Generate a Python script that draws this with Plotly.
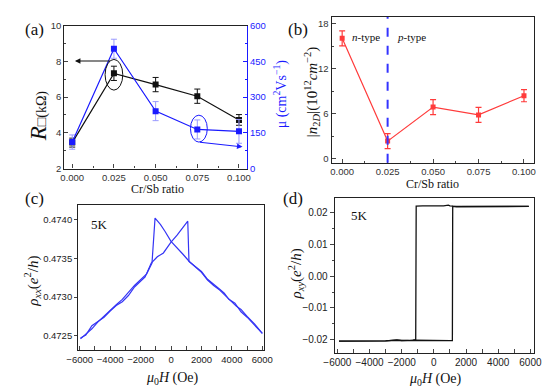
import plotly.graph_objects as go

W, H = 550, 389

# ---------------- data ----------------
# Panel (a)
ratio = [0.000, 0.025, 0.050, 0.075, 0.100]
r_sheet = [3.45, 7.33, 6.70, 6.05, 4.72]
r_sheet_err = [0.25, 0.40, 0.40, 0.40, 0.30]
mobility = [111, 503, 241, 164, 156]
mobility_err = [30, 40, 40, 40, 50]

# Panel (b)
n2d = [16.05, 2.37, 6.90, 5.86, 8.41]
n2d_err = [1.0, 1.0, 1.0, 1.0, 0.8]

# Panel (c)  rho_xx loop
field_up_xx = [-5950, -5600, -5200, -4800, -4400, -4000, -3600, -3200, -2800, -2400,
               -2000, -1700, -1300, -900, -500, -200, 0, 400, 800, 1100,
               1180, 1500, 2000, 2400, 2800, 3200, 3500, 3800, 4200, 4600,
               5000, 5500, 6000]
rho_xx_up = [0.47247, 0.47251, 0.47263, 0.47268, 0.47274, 0.47282, 0.47289, 0.47294, 0.47302, 0.47313,
             0.47320, 0.47326, 0.47344, 0.47352, 0.47357, 0.47365, 0.47371, 0.47380, 0.47390, 0.47398,
             0.47346, 0.47341, 0.47333, 0.47323, 0.47317, 0.47310, 0.47305, 0.47297, 0.47292, 0.47281,
             0.47274, 0.47264, 0.47253]
field_down_xx = [6000, 5500, 5000, 4600, 4300, 4000, 3600, 3200, 2800, 2400,
                 2000, 1600, 1200, 800, 400, 0, -400, -700, -1050, -1250,
                 -1600, -2000, -2400, -2800, -3200, -3600, -4000, -4400, -4800, -5200,
                 -5600, -5950]
rho_xx_down = [0.47253, 0.47265, 0.47275, 0.47284, 0.47288, 0.47294, 0.47302, 0.47309, 0.47315, 0.47322,
               0.47332, 0.47339, 0.47346, 0.47355, 0.47363, 0.47372, 0.47385, 0.47394, 0.47402, 0.47344,
               0.47330, 0.47323, 0.47315, 0.47306, 0.47297, 0.47290, 0.47283, 0.47275, 0.47268, 0.47259,
               0.47252, 0.47246]

# Panel (d)  rho_xy loop
field_up_xy = [-5900, -5000, -4000, -3000, -2300, -2000, -1500, -1150, -500, 0,
               500, 1000, 1150, 1170, 1400, 2000, 3000, 4000, 5000, 5900]
rho_xy_up = [-0.0205, -0.0205, -0.0204, -0.0204, -0.0202, -0.0203, -0.0203, -0.0202, -0.0203, -0.0203,
             -0.0203, -0.0203, -0.0203, 0.0220, 0.0219, 0.0219, 0.0219, 0.0220, 0.0220, 0.0220]
field_down_xy = [5900, 4000, 2000, 1300, 1180, 1000, 900, 600, 200, -300,
                 -700, -1100, -1130, -1300, -2000, -2300, -3000, -4000, -5000, -5900]
rho_xy_down = [0.0220, 0.0220, 0.0219, 0.0219, 0.0221, 0.0222, 0.0224, 0.0222, 0.0223, 0.0222,
               0.0222, 0.0221, -0.0200, -0.0202, -0.0203, -0.0201, -0.0204, -0.0204, -0.0205, -0.0205]

# ---------------- styling helpers ----------------
def px_x(p):
    return p / W

def px_y(p):
    return 1 - p / H

SERIF = "Liberation Serif"
SANS = "Liberation Sans"
BLUE = "#1a1aff"
RED = "#ff3b3b"
LBLUE = "#9a9aff"

fig = go.Figure()

# (a) sheet resistance
fig.add_trace(go.Scatter(
    x=ratio, y=r_sheet, mode="lines+markers", xaxis="x", yaxis="y",
    line=dict(color="#111111", width=1.2),
    marker=dict(symbol="square", size=6, color="#111111"),
    error_y=dict(type="data", array=r_sheet_err, color="#111111", thickness=1, width=3),
    showlegend=False))
# (a) mobility
fig.add_trace(go.Scatter(
    x=ratio, y=mobility, mode="lines+markers", xaxis="x", yaxis="y5",
    line=dict(color=BLUE, width=1.2),
    marker=dict(symbol="square", size=6, color=BLUE),
    error_y=dict(type="data", array=mobility_err, color=LBLUE, thickness=1, width=3),
    showlegend=False))
# (b) carrier density
fig.add_trace(go.Scatter(
    x=ratio, y=n2d, mode="lines+markers", xaxis="x2", yaxis="y2",
    line=dict(color=RED, width=1.2),
    marker=dict(symbol="square", size=5, color=RED),
    error_y=dict(type="data", array=n2d_err, color=RED, thickness=1.2, width=3),
    showlegend=False))
# (c)
fig.add_trace(go.Scatter(x=field_up_xx, y=rho_xx_up, mode="lines", xaxis="x3", yaxis="y3",
                         line=dict(color="#3535f5", width=1.2), showlegend=False))
fig.add_trace(go.Scatter(x=field_down_xx, y=rho_xx_down, mode="lines", xaxis="x3", yaxis="y3",
                         line=dict(color="#3535f5", width=1.2), showlegend=False))
# (d)
fig.add_trace(go.Scatter(x=field_up_xy, y=rho_xy_up, mode="lines", xaxis="x4", yaxis="y4",
                         line=dict(color="#111111", width=1.3), showlegend=False))
fig.add_trace(go.Scatter(x=field_down_xy, y=rho_xy_down, mode="lines", xaxis="x4", yaxis="y4",
                         line=dict(color="#111111", width=1.3), showlegend=False))

tickfont_ab = dict(family=SANS, size=9.5, color="#333333")
tickfont_c = dict(family=SANS, size=9.5, color="#222222")
tickfont_d = dict(family=SANS, size=10, color="#222222")

common = dict(showgrid=False, zeroline=False, showline=True, linewidth=1.2)

fig.update_layout(
    width=W, height=H, margin=dict(l=0, r=0, t=0, b=0),
    paper_bgcolor="white", plot_bgcolor="white",
    xaxis=dict(domain=[px_x(46), px_x(236)], range=[-0.0048, 0.1048], anchor="y",
               tickvals=ratio, tickformat=".3f", ticks="inside", ticklen=4, tickangle=0,
               minor=dict(ticks="inside", ticklen=2, dtick=0.0125, tick0=0),
               linecolor="#222222", mirror=True, tickfont=tickfont_ab, **common),
    yaxis=dict(domain=[px_y(159), px_y(12)], range=[2, 10], anchor="x",
               dtick=2, tick0=2, ticks="inside", ticklen=4,
               minor=dict(ticks="inside", ticklen=2, dtick=1),
               linecolor="#222222", mirror=False, tickfont=tickfont_ab, **common),
    yaxis5=dict(overlaying="y", side="right", anchor="x", range=[0, 600],
                dtick=150, ticks="inside", ticklen=4,
                minor=dict(ticks="inside", ticklen=2, dtick=75),
                linecolor=BLUE, tickcolor=BLUE,
                tickfont=dict(family=SANS, size=9.5, color=BLUE), **common),
    xaxis2=dict(domain=[px_x(324), px_x(534)], range=[-0.0058, 0.1053], anchor="y2",
                tickvals=ratio, tickformat=".3f", ticks="inside", ticklen=4, tickangle=0,
                minor=dict(ticks="inside", ticklen=2, dtick=0.0125, tick0=0),
                linecolor="#222222", mirror=True, tickfont=tickfont_ab, **common),
    yaxis2=dict(domain=[px_y(153), px_y(3)], range=[-0.5, 18.9], anchor="x2",
                tickvals=[0, 6, 12, 18], ticks="inside", ticklen=4,
                minor=dict(ticks="inside", ticklen=2, dtick=3),
                linecolor="#222222", mirror=True, tickfont=tickfont_ab, **common),
    xaxis3=dict(domain=[px_x(60.5), px_x(254)], range=[-6100, 6130], anchor="y3",
                tickvals=[-6000, -4000, -2000, 0, 2000, 4000, 6000], ticks="inside", ticklen=4,
                tickangle=0,
                minor=dict(ticks="inside", ticklen=4, dtick=1000),
                linecolor="#222222", mirror=True, tickfont=tickfont_c, **common),
    yaxis3=dict(domain=[px_y(346), px_y(196.7)], range=[0.472313, 0.474188], anchor="x3",
                tickvals=[0.4725, 0.4730, 0.4735, 0.4740], tickformat=".4f",
                ticks="outside", ticklen=3,
                linecolor="#222222", mirror=True, tickfont=tickfont_c, **common),
    xaxis4=dict(domain=[px_x(327.3), px_x(534)], range=[-6160, 6200], anchor="y4",
                tickvals=[-6000, -4000, -2000, 0, 2000, 4000, 6000], ticks="inside", ticklen=4,
                tickangle=0,
                minor=dict(ticks="inside", ticklen=4, dtick=1000),
                linecolor="#222222", mirror=True, tickfont=tickfont_d, **common),
    yaxis4=dict(domain=[px_y(349), px_y(189.3)], range=[-0.02427, 0.02467], anchor="x4",
                tickvals=[-0.02, -0.01, 0.0, 0.01, 0.02], tickformat=".2f",
                ticks="outside", ticklen=4,
                minor=dict(ticks="outside", ticklen=2, dtick=0.005),
                linecolor="#222222", mirror=True, tickfont=tickfont_d, **common),
)

# shapes: ellipses + dashed line
fig.add_shape(type="circle", xref="x", yref="y", x0=0.0197, x1=0.0303, y0=6.39, y1=8.11,
              line=dict(color="#111111", width=1))
fig.add_shape(type="circle", xref="x", yref="y5", x0=0.0709, x1=0.0810, y0=111, y1=224,
              line=dict(color=BLUE, width=1))
fig.add_shape(type="line", xref="x2", yref="y2 domain", x0=0.025, x1=0.025, y0=0, y1=1,
              line=dict(color="#3333ff", width=2, dash="dash"))

ann = []
# arrows in (a)
ann.append(dict(x=0.0016, y=8.02, ax=0.0236, ay=8.02, xref="x", yref="y", axref="x", ayref="y",
                showarrow=True, arrowhead=2, arrowsize=1, arrowwidth=1.1, arrowcolor="#111111", text=""))
ann.append(dict(x=0.1021, y=91, ax=0.0757, ay=111, xref="x", yref="y5", axref="x", ayref="y5",
                showarrow=True, arrowhead=2, arrowsize=1, arrowwidth=1.1, arrowcolor=BLUE, text=""))

def label(text, x, y, size, color="#111111", family=SERIF, angle=0, xanchor="center"):
    ann.append(dict(text=text, x=px_x(x), y=px_y(y), xref="paper", yref="paper",
                    showarrow=False, textangle=angle, xanchor=xanchor, yanchor="middle",
                    font=dict(family=family, size=size, color=color)))

# panel letters
label("(a)", 15, 16, 17)
label("(b)", 289, 16, 17)
label("(c)", 15, 190, 17)
label("(d)", 284, 190, 17)

# axis titles
label("Cr/Sb ratio", 143, 180, 12)
label("Cr/Sb ratio", 429, 175, 12)
label("<i>R</i><span style='font-size:14px'>□(kΩ)</span>", 19, 105, 23, angle=-90)
label("μ (cm<sup>2</sup>Vs<sup>−1</sup>)", 271, 82, 14, color=BLUE, angle=-90)
label("|<i>n</i><sub>2<i>D</i></sub>|(10<sup>12</sup><i>cm</i><sup>−2</sup>)", 303, 80, 15, angle=-90)
label("<i>ρ<sub>xx</sub></i>(<i>e</i><sup>2</sup>/<i>h</i>)", 13, 275, 15, angle=-90)
label("<i>ρ<sub>xy</sub></i>(<i>e</i><sup>2</sup>/<i>h</i>)", 287, 268, 15, angle=-90)
label("<i>μ</i><sub>0</sub><i>H</i> (Oe)", 159, 375, 14)
label("<i>μ</i><sub>0</sub><i>H</i> (Oe)", 432, 376, 14)

# in-plot labels
label("<i>n</i>-type", 360, 24, 11)
label("<i>p</i>-type", 407, 24, 11)
label("5K", 83, 217, 13)
label("5K", 353, 207, 13)

fig.update_layout(annotations=ann)
fig.write_html("out.html")
